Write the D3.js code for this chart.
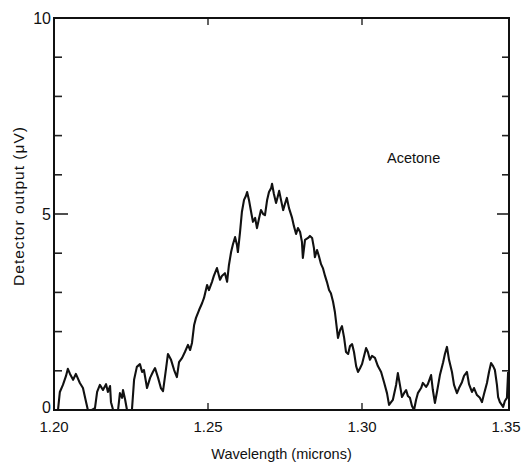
<!DOCTYPE html>
<html>
<head>
<meta charset="utf-8">
<script src="https://cdn.jsdelivr.net/npm/d3@7"></script>
<style>
  body { margin: 0; background: #fff; }
  text { font-family: "Liberation Sans", Arial, sans-serif; fill: #111; }
</style>
</head>
<body>
<div id="container"></div>
<script>

// wavelength in microns
var wavelength = [
    1.2000, 1.2013, 1.2019, 1.2029, 1.2039, 1.2045, 1.2052, 1.2062, 1.2071, 1.2084,
    1.2094, 1.2101, 1.2110, 1.2123, 1.2133, 1.2140, 1.2149, 1.2159, 1.2169, 1.2175,
    1.2182, 1.2185, 1.2192, 1.2208, 1.2214, 1.2221, 1.2224, 1.2231, 1.2237, 1.2253,
    1.2260, 1.2269, 1.2279, 1.2286, 1.2292, 1.2302, 1.2312, 1.2321, 1.2328, 1.2338,
    1.2347, 1.2354, 1.2364, 1.2370, 1.2380, 1.2390, 1.2399, 1.2406, 1.2416, 1.2425,
    1.2435, 1.2442, 1.2448, 1.2455, 1.2461, 1.2471, 1.2481, 1.2487, 1.2497, 1.2503,
    1.2513, 1.2519, 1.2529, 1.2539, 1.2545, 1.2555, 1.2562, 1.2568, 1.2575, 1.2581,
    1.2588, 1.2594, 1.2597, 1.2604, 1.2610, 1.2617, 1.2623, 1.2627, 1.2633, 1.2640,
    1.2646, 1.2653, 1.2659, 1.2666, 1.2672, 1.2679, 1.2685, 1.2692, 1.2698, 1.2705,
    1.2708, 1.2714, 1.2721, 1.2727, 1.2731, 1.2737, 1.2744, 1.2750, 1.2756, 1.2763,
    1.2773, 1.2779, 1.2786, 1.2792, 1.2799, 1.2805, 1.2808, 1.2815, 1.2825, 1.2831,
    1.2838, 1.2844, 1.2847, 1.2854, 1.2860, 1.2867, 1.2873, 1.2880, 1.2886, 1.2893,
    1.2899, 1.2906, 1.2912, 1.2919, 1.2922, 1.2929, 1.2935, 1.2942, 1.2948, 1.2955,
    1.2961, 1.2968, 1.2974, 1.2981, 1.2987, 1.2994, 1.3000, 1.3007, 1.3014, 1.3020,
    1.3027, 1.3034, 1.3044, 1.3054, 1.3065, 1.3075, 1.3085, 1.3092, 1.3099, 1.3105,
    1.3116, 1.3122, 1.3129, 1.3136, 1.3143, 1.3150, 1.3156, 1.3163, 1.3170, 1.3177,
    1.3184, 1.3190, 1.3201, 1.3207, 1.3218, 1.3224, 1.3235, 1.3241, 1.3248, 1.3255,
    1.3265, 1.3276, 1.3282, 1.3289, 1.3296, 1.3306, 1.3313, 1.3323, 1.3330, 1.3340,
    1.3347, 1.3357, 1.3364, 1.3374, 1.3381, 1.3391, 1.3401, 1.3408, 1.3415, 1.3425,
    1.3432, 1.3439, 1.3446, 1.3452, 1.3459, 1.3463, 1.3469, 1.3480, 1.3486, 1.3493,
    1.3497
];

// detector output in microvolts
var output = [
    0.00, 0.00, 0.46, 0.64, 0.87, 1.05, 0.92, 0.77, 0.92, 0.69,
    0.56, 0.31, 0.00, 0.00, 0.05, 0.46, 0.64, 0.51, 0.66, 0.46,
    0.61, 0.20, 0.00, 0.00, 0.43, 0.31, 0.51, 0.26, 0.00, 0.00,
    0.77, 1.10, 1.17, 0.97, 1.02, 0.56, 0.82, 0.97, 1.07, 0.82,
    0.56, 0.48, 1.07, 1.43, 1.28, 1.02, 0.84, 1.22, 1.33, 1.48,
    1.66, 1.53, 1.71, 2.17, 2.35, 2.55, 2.73, 2.86, 3.19, 3.06,
    3.27, 3.42, 3.62, 3.32, 3.42, 3.49, 3.27, 3.70, 4.03, 4.23,
    4.41, 4.21, 4.03, 4.54, 5.05, 5.36, 5.46, 5.56, 5.36, 5.05,
    4.80, 4.90, 4.64, 4.90, 5.10, 5.00, 4.97, 5.36, 5.56, 5.66,
    5.77, 5.51, 5.28, 5.46, 5.59, 5.36, 5.10, 5.26, 5.41, 5.15,
    4.90, 4.69, 4.49, 4.64, 4.54, 4.29, 3.88, 4.34, 4.39, 4.44,
    4.39, 4.13, 3.90, 4.08, 3.93, 3.72, 3.62, 3.42, 3.27, 3.06,
    2.98, 2.76, 2.50, 2.04, 1.84, 2.04, 2.14, 1.84, 1.48, 1.43,
    1.63, 1.68, 1.48, 1.12, 0.97, 1.07, 1.17, 1.38, 1.58, 1.48,
    1.28, 1.38, 1.33, 1.12, 0.97, 0.71, 0.43, 0.13, 0.20, 0.26,
    0.64, 0.94, 0.64, 0.33, 0.43, 0.51, 0.36, 0.31, 0.10, 0.00,
    0.26, 0.43, 0.56, 0.69, 0.59, 0.66, 0.89, 0.51, 0.18, 0.46,
    0.89, 1.22, 1.43, 1.61, 1.28, 0.97, 0.64, 0.43, 0.56, 0.71,
    0.87, 0.97, 0.66, 0.46, 0.56, 0.38, 0.31, 0.20, 0.41, 0.69,
    0.97, 1.20, 1.12, 1.02, 0.64, 0.33, 0.20, 0.08, 0.23, 0.31,
    0.97
];

var xTickValues = [1.20, 1.25, 1.30, 1.35];
var xTickLabels = ["1.20", "1.25", "1.30", "1.35"];
var yTickValues = [0, 5, 10];
var yTickLabels = ["0", "5", "10"];

var width = 524, height = 466;
var margin = { top: 18, right: 15, bottom: 56, left: 54 };

var svg = d3.select("#container").append("svg")
    .attr("width", width)
    .attr("height", height);

// the chart-recorder axis is slightly compressed near the right end
var x = d3.scaleLinear()
    .domain([1.20, 1.30, 1.35])
    .range([margin.left, 362, width - margin.right]);

var y = d3.scaleLinear()
    .domain([0, 10])
    .range([height - margin.bottom, margin.top]);

var x0 = x(1.20), x1 = x(1.35), y0 = y(0), y1 = y(10);

// minor ticks, pointing inwards
var minor = d3.range(0, 11);

svg.append("g").selectAll("line.left")
    .data(minor)
    .enter().append("line")
    .attr("x1", x0)
    .attr("x2", function (d) { return x0 + (d == 5 ? 14 : 8); })
    .attr("y1", function (d) { return y(d); })
    .attr("y2", function (d) { return y(d); })
    .attr("stroke", "#222")
    .attr("stroke-width", 1.6);

svg.append("g").selectAll("line.right")
    .data(minor)
    .enter().append("line")
    .attr("x1", x1)
    .attr("x2", function (d) { return x1 - (d == 5 ? 12 : 7); })
    .attr("y1", function (d) { return y(d); })
    .attr("y2", function (d) { return y(d); })
    .attr("stroke", "#222")
    .attr("stroke-width", 1.6);

svg.append("g").selectAll("line.bottom")
    .data([1.25, 1.30])
    .enter().append("line")
    .attr("x1", function (d) { return x(d); })
    .attr("x2", function (d) { return x(d); })
    .attr("y1", y0)
    .attr("y2", y0 - 7)
    .attr("stroke", "#222")
    .attr("stroke-width", 1.4);

svg.append("g").selectAll("line.top")
    .data([1.25, 1.30])
    .enter().append("line")
    .attr("x1", function (d) { return x(d); })
    .attr("x2", function (d) { return x(d); })
    .attr("y1", y1)
    .attr("y2", y1 + 7)
    .attr("stroke", "#222")
    .attr("stroke-width", 1.4);

// frame
svg.append("rect")
    .attr("x", x0)
    .attr("y", y1)
    .attr("width", x1 - x0)
    .attr("height", y0 - y1)
    .attr("fill", "none")
    .attr("stroke", "#111")
    .attr("stroke-width", 2);

// tick labels
svg.append("g").selectAll("text")
    .data(xTickValues)
    .enter().append("text")
    .attr("x", function (d, i) { return i == 3 ? x(d) - 3 : x(d); })
    .attr("y", y0 + 22)
    .attr("text-anchor", "middle")
    .style("font-size", "15px")
    .text(function (d, i) { return xTickLabels[i]; });

svg.append("g").selectAll("text")
    .data(yTickValues)
    .enter().append("text")
    .attr("x", x0 - 3)
    .attr("y", function (d) { return d == 0 ? y(d) - 3 : y(d); })
    .attr("dy", "0.36em")
    .attr("text-anchor", "end")
    .style("font-size", "16px")
    .text(function (d, i) { return yTickLabels[i]; });

// axis titles
svg.append("text")
    .attr("x", (x0 + x1) / 2)
    .attr("y", y0 + 49)
    .attr("text-anchor", "middle")
    .style("font-size", "14.5px")
    .text("Wavelength (microns)");

svg.append("text")
    .attr("transform", "translate(24," + ((y0 + y1) / 2 - 8) + ") rotate(-90)")
    .attr("text-anchor", "middle")
    .style("font-size", "15.5px")
    .style("letter-spacing", "1px")
    .text("Detector output (\u03BCV)");

svg.append("text")
    .attr("x", x(1.3085))
    .attr("y", y(6.3))
    .style("font-size", "14.5px")
    .text("Acetone");

// the trace
var line = d3.line()
    .x(function (d) { return x(d[0]); })
    .y(function (d) { return y(d[1]); });

svg.append("path")
    .datum(d3.zip(wavelength, output))
    .attr("d", line)
    .attr("fill", "none")
    .attr("stroke", "#111")
    .attr("stroke-width", 2.1)
    .attr("stroke-linejoin", "round");

</script>
</body>
</html>
